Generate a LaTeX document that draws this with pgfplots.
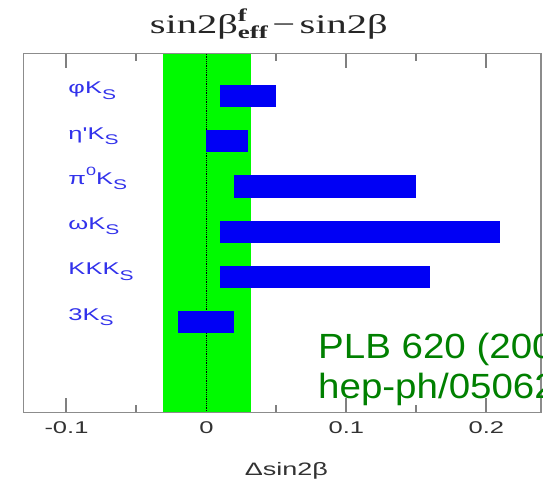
\documentclass[border=0pt]{standalone}
\usepackage{pgfplots}
\pgfplotsset{compat=1.18}
\usepackage{fontspec}
\setmainfont{Liberation Sans}
\newfontfamily\lblfont{Liberation Sans}[FakeStretch=1.5]
\newfontfamily\ttlfont{Liberation Serif}[FakeStretch=1.5]
\newfontfamily\reffont{Liberation Sans}[FakeStretch=1.1]
\definecolor{barblue}{RGB}{0,0,245}
\definecolor{bandgreen}{RGB}{0,250,0}
\definecolor{lblblue}{RGB}{50,50,235}
\definecolor{refgreen}{RGB}{0,128,0}
\definecolor{framegray}{RGB}{140,140,140}
\definecolor{txtgray}{RGB}{50,50,50}
\newcommand{\Ks}{K\raisebox{-0.3em}{\fontsize{14}{14}\selectfont S}}
\tikzset{lbl/.style={anchor=base west, text=lblblue, font=\lblfont\fontsize{17}{17}\selectfont, inner sep=0pt}}

\begin{document}
\begin{tikzpicture}
\begin{axis}[
  at={(0,0)}, anchor=south west,
  scale only axis, width=517.5pt, height=358.6pt,
  xmin=-0.1307, xmax=0.239,
  y dir=reverse, ymin=0.066, ymax=7.99,
  ytick=\empty,
  xtick={-0.1,0.1,0.2}, xticklabels={-0.1,0.1,0.2},
  extra x ticks={0}, extra x tick labels={0},
  extra x tick style={major tick length=0pt},
  minor xtick={-0.05,0.05,0.15},
  tick align=inside, xtick pos=both,
  major tick length=14pt, minor tick length=7pt,
  axis line style={framegray, line width=1.2pt},
  xtick style={color=gray, line width=2pt},
  tick label style={font=\lblfont\fontsize{17}{17}\selectfont, text=txtgray},
  xticklabel style={yshift=-6pt},
  clip=false,
  axis on top,
]
% SM band
\addplot[fill=bandgreen, draw=none] coordinates {(-0.031,0.066) (0.032,0.066) (0.032,7.99) (-0.031,7.99)} -- cycle;
\addplot[black, densely dotted, line width=0.8pt] coordinates {(0,0.066) (0,7.99)};
% deviations: lower / upper
\addplot[fill=barblue, draw=none] coordinates {(0.01,0.752) (0.05,0.752) (0.05,1.248) (0.01,1.248)} -- cycle;
\addplot[fill=barblue, draw=none] coordinates {(0.00,1.752) (0.03,1.752) (0.03,2.248) (0.00,2.248)} -- cycle;
\addplot[fill=barblue, draw=none] coordinates {(0.02,2.752) (0.15,2.752) (0.15,3.248) (0.02,3.248)} -- cycle;
\addplot[fill=barblue, draw=none] coordinates {(0.01,3.752) (0.21,3.752) (0.21,4.248) (0.01,4.248)} -- cycle;
\addplot[fill=barblue, draw=none] coordinates {(0.01,4.752) (0.16,4.752) (0.16,5.248) (0.01,5.248)} -- cycle;
\addplot[fill=barblue, draw=none] coordinates {(-0.02,5.752) (0.02,5.752) (0.02,6.248) (-0.02,6.248)} -- cycle;

\node[lbl] at (axis cs:-0.0987,0.955) {φ\Ks};
\node[lbl] at (axis cs:-0.0987,1.955) {η'\Ks};
\node[lbl] at (axis cs:-0.0987,2.955) {π\raisebox{0.55em}{\fontsize{12}{12}\selectfont 0}\Ks};
\node[lbl] at (axis cs:-0.0987,3.955) {ω\Ks};
\node[lbl] at (axis cs:-0.0987,4.955) {KK\Ks};
\node[lbl] at (axis cs:-0.0987,5.955) {3\Ks};

\node[anchor=base, inner sep=0pt, text=black!85, font=\ttlfont\fontsize{27}{30}\selectfont]
  at ([yshift=20.7pt]rel axis cs:0.474,1)
  {sin2β\rlap{\raisebox{0.42em}{\fontsize{18}{18}\selectfont\bfseries f}}\raisebox{-0.22em}{\fontsize{18}{18}\selectfont\bfseries eff}\,−\,sin2β};
\node[anchor=base, inner sep=0pt, text=txtgray, font=\lblfont\fontsize{18}{18}\selectfont]
  at ([yshift=-63.5pt]rel axis cs:0.508,0) {Δsin2β};
\end{axis}
\begin{scope}
\clip (-23.5pt,-69.7pt) rectangle (519.5pt,412.3pt);
\node[anchor=base west, inner sep=0pt, text=refgreen, font=\reffont\fontsize{35}{35}\selectfont]
  at (294.5pt,54pt) {PLB 620 (200};
\node[anchor=base west, inner sep=0pt, text=refgreen, font=\reffont\fontsize{35}{35}\selectfont]
  at (294.5pt,14pt) {hep-ph/05062};
\end{scope}
\pgfresetboundingbox
\path[use as bounding box] (-23.5pt,-69.7pt) rectangle (519.5pt,412.3pt);
\end{tikzpicture}
\end{document}
